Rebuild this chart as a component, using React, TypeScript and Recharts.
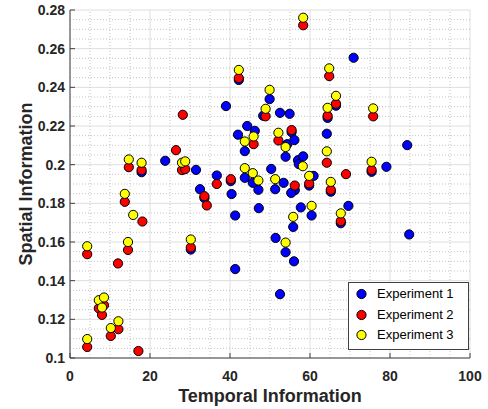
import React from "react";
import {
  ScatterChart,
  Scatter,
  XAxis,
  YAxis,
  CartesianGrid,
  ReferenceLine,
  Legend,
  Label
} from "recharts";

// Experiment 1 (blue)
const exp1Temporal = [
  42.2, 39.0, 44.3, 42.0, 43.7, 23.8, 17.9, 31.5, 43.7, 36.7, 40.2, 32.5, 33.6, 40.4, 41.3,
  30.2, 41.3, 70.9, 49.9, 66.5, 48.3, 52.5, 54.9, 64.4, 46.2, 55.4, 54.3, 56.1, 53.9, 64.2,
  84.3, 75.4, 79.1, 45.7, 47.1, 50.3, 51.3, 53.4, 57.0, 57.2, 58.3, 60.9, 59.8, 56.2, 55.3,
  65.2, 47.2, 57.7, 55.8, 60.4, 51.4, 53.9, 56.0, 52.5, 69.6, 67.7, 84.8
];
const exp1Spatial = [
  0.2438, 0.2303, 0.22, 0.2155, 0.207, 0.202, 0.1961, 0.1973, 0.1932, 0.1944, 0.1915, 0.1873,
  0.1827, 0.1848, 0.1737, 0.1561, 0.146, 0.2553, 0.2339, 0.2305, 0.2253, 0.2268, 0.2263, 0.2242,
  0.2175, 0.2168, 0.2106, 0.2127, 0.2041, 0.216, 0.2101, 0.1963, 0.1989, 0.1906, 0.187, 0.1978,
  0.1873, 0.1906, 0.2023, 0.2003, 0.2043, 0.1942, 0.1892, 0.1868, 0.1854, 0.186, 0.1775, 0.1779,
  0.1678, 0.1737, 0.1621, 0.1547, 0.15, 0.133, 0.1787, 0.1697, 0.1639
];

// Experiment 2 (red)
const exp2Temporal = [
  42.2, 28.2, 26.5, 28.0, 28.8, 14.7, 17.9, 36.7, 40.2, 33.6, 13.7, 34.2, 18.1, 30.2, 14.5,
  12.0, 4.3, 7.2, 8.5, 8.0, 10.2, 12.1, 4.3, 17.1, 58.3, 64.8, 66.5, 48.9, 64.4, 75.8, 45.9,
  52.1, 55.4, 64.2, 75.4, 69.0, 59.8, 56.2, 65.2, 67.7
];
const exp2Spatial = [
  0.2448, 0.2258, 0.2075, 0.1972, 0.1977, 0.1987, 0.1972, 0.19, 0.1925, 0.1837, 0.1808, 0.1789,
  0.1706, 0.1572, 0.1559, 0.1489, 0.1537, 0.1257, 0.1273, 0.1223, 0.1114, 0.1149, 0.1057, 0.1036,
  0.2721, 0.2458, 0.2315, 0.225, 0.2253, 0.225, 0.2106, 0.2125, 0.2179, 0.201, 0.1973, 0.1951,
  0.1903, 0.1892, 0.187, 0.1708
];

// Experiment 3 (yellow)
const exp3Temporal = [
  42.2, 43.7, 28.0, 28.8, 14.7, 17.9, 43.7, 13.7, 15.8, 30.2, 14.5, 4.3, 7.2, 8.5, 8.0, 10.2,
  12.1, 4.3, 58.3, 64.8, 49.9, 66.5, 48.9, 64.4, 75.8, 45.9, 52.1, 53.9, 64.2, 75.4, 45.7, 47.1,
  51.3, 58.2, 59.8, 65.2, 60.4, 55.8, 53.9, 67.7
];
const exp3Spatial = [
  0.249, 0.212, 0.201, 0.2017, 0.2027, 0.201, 0.1982, 0.1849, 0.174, 0.1613, 0.16, 0.1578,
  0.1299, 0.1313, 0.1261, 0.1155, 0.119, 0.1098, 0.276, 0.2498, 0.2387, 0.2356, 0.2289, 0.2294,
  0.2291, 0.2146, 0.2165, 0.2091, 0.2069, 0.2015, 0.1956, 0.1918, 0.1925, 0.1992, 0.1942, 0.1911,
  0.1787, 0.173, 0.1597, 0.1748
];

const xTicks = [0, 20, 40, 60, 80, 100];
const yTicks = [0.1, 0.12, 0.14, 0.16, 0.18, 0.2, 0.22, 0.24, 0.26, 0.28];

const seriesNames = ["Experiment 1", "Experiment 2", "Experiment 3"];
const seriesColors = ["#0000ff", "#ff0000", "#ffff00"];

const toPoints = (xs: number[], ys: number[]) => xs.map((x, i) => ({ x, y: ys[i] }));

const exp1 = toPoints(exp1Temporal, exp1Spatial);
const exp2 = toPoints(exp2Temporal, exp2Spatial);
const exp3 = toPoints(exp3Temporal, exp3Spatial);

// minor grid between major ticks (dotted, like MATLAB)
const xMinor: number[] = [];
for (let i = 0; i < xTicks.length - 1; i++) {
  const step = (xTicks[i + 1] - xTicks[i]) / 4;
  for (let k = 1; k < 4; k++) xMinor.push(xTicks[i] + step * k);
}
const yMinor: number[] = [];
for (let i = 0; i < yTicks.length - 1; i++) {
  const step = (yTicks[i + 1] - yTicks[i]) / 4;
  for (let k = 1; k < 4; k++) yMinor.push(+(yTicks[i] + step * k).toFixed(4));
}

const FONT = "'Liberation Sans', Arial, Helvetica, sans-serif";
const AXIS = "#404040";
const TEXT = "#262626";

const BottomTick = (props: any) => {
  const { x, y, payload } = props;
  return (
    <g>
      <line x1={x} y1={y} x2={x} y2={y - 5} stroke={AXIS} />
      <text x={x} y={y + 23} textAnchor="middle" fill={TEXT} fontFamily={FONT} fontWeight="bold" fontSize={14}>
        {payload.value}
      </text>
    </g>
  );
};

const LeftTick = (props: any) => {
  const { x, y, payload } = props;
  return (
    <g>
      <line x1={x} y1={y} x2={x + 5} y2={y} stroke={AXIS} />
      <text x={x - 5} y={y + 5} textAnchor="end" fill={TEXT} fontFamily={FONT} fontWeight="bold" fontSize={14}>
        {payload.value}
      </text>
    </g>
  );
};

const TopTick = (props: any) => {
  const { x, y } = props;
  return <line x1={x} y1={y} x2={x} y2={y + 5} stroke={AXIS} />;
};

const RightTick = (props: any) => {
  const { x, y } = props;
  return <line x1={x} y1={y} x2={x - 5} y2={y} stroke={AXIS} />;
};

const Dot = (color: string) => (props: any) => {
  const { cx, cy } = props;
  return <circle cx={cx} cy={cy} r={4.6} fill={color} stroke="#000" strokeWidth={1} />;
};

const LegendBox = () => (
  <div
    style={{
      position: "relative",
      width: 121,
      height: 68,
      boxSizing: "border-box",
      border: `1px solid ${AXIS}`,
      background: "#fff",
      fontFamily: FONT,
      fontSize: 13,
      color: "#000"
    }}
  >
    {seriesNames.map((name, i) => (
      <div key={name} style={{ position: "absolute", left: 0, top: 1 + i * 20.5, height: 20, width: 119 }}>
        <svg width={20} height={20} style={{ position: "absolute", left: 3, top: 0 }}>
          <circle cx={9.5} cy={10} r={4.6} fill={seriesColors[i]} stroke="#000" />
        </svg>
        <span style={{ position: "absolute", left: 28, top: 2, whiteSpace: "nowrap" }}>{name}</span>
      </div>
    ))}
  </div>
);

export default function App() {
  return (
    <div style={{ position: "absolute", left: 0, top: 0, width: 488, height: 409, background: "#fff" }}>
      <ScatterChart width={488} height={409} margin={{ top: 10, right: 18, left: 0, bottom: 0 }}>
        <CartesianGrid stroke="#dedede" />
        {xMinor.map((v) => (
          <ReferenceLine key={"x" + v} x={v} stroke="#c4c4c4" strokeDasharray="1 2" />
        ))}
        {yMinor.map((v) => (
          <ReferenceLine key={"y" + v} y={v} stroke="#c4c4c4" strokeDasharray="1 2" />
        ))}
        <XAxis
          type="number"
          dataKey="x"
          domain={[0, 100]}
          ticks={xTicks}
          interval={0}
          height={51}
          tickSize={0}
          tickMargin={0}
          tick={<BottomTick />}
          axisLine={{ stroke: AXIS }}
        >
          <Label
            value="Temporal Information"
            position="insideBottom"
            offset={7}
            style={{ fontFamily: FONT, fontWeight: "bold", fontSize: 18, fill: TEXT }}
          />
        </XAxis>
        <YAxis
          type="number"
          dataKey="y"
          domain={[0.1, 0.28]}
          ticks={yTicks}
          interval={0}
          width={70}
          tickSize={0}
          tickMargin={0}
          tick={<LeftTick />}
          axisLine={{ stroke: AXIS }}
        >
          <Label
            value="Spatial Information"
            angle={-90}
            position="insideLeft"
            offset={26}
            style={{ textAnchor: "middle", fontFamily: FONT, fontWeight: "bold", fontSize: 18, fill: TEXT }}
          />
        </YAxis>
        <XAxis
          xAxisId="top"
          orientation="top"
          type="number"
          domain={[0, 100]}
          ticks={xTicks}
          interval={0}
          height={0}
          tickSize={0}
          tickMargin={0}
          tick={<TopTick />}
          axisLine={{ stroke: AXIS }}
        />
        <YAxis
          yAxisId="right"
          orientation="right"
          type="number"
          domain={[0.1, 0.28]}
          ticks={yTicks}
          interval={0}
          width={0}
          tickSize={0}
          tickMargin={0}
          tick={<RightTick />}
          axisLine={{ stroke: AXIS }}
        />
        <Scatter name={seriesNames[0]} data={exp1} fill={seriesColors[0]} shape={Dot(seriesColors[0])} isAnimationActive={false} />
        <Scatter name={seriesNames[1]} data={exp2} fill={seriesColors[1]} shape={Dot(seriesColors[1])} isAnimationActive={false} />
        <Scatter name={seriesNames[2]} data={exp3} fill={seriesColors[2]} shape={Dot(seriesColors[2])} isAnimationActive={false} />
        <Legend
          layout="horizontal"
          verticalAlign="middle"
          align="center"
          content={<LegendBox />}
          wrapperStyle={{ left: 348, top: 282, width: 121, height: 68 }}
        />
      </ScatterChart>
    </div>
  );
}
